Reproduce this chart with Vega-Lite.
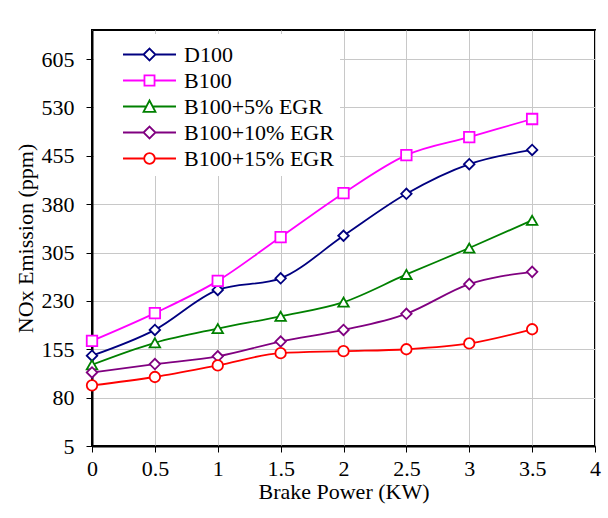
{
  "$schema": "https://vega.github.io/schema/vega-lite/v6.json",
  "autosize": "none",
  "width": 503,
  "height": 416,
  "padding": {"left": 92, "top": 30, "right": 13, "bottom": 72},
  "background": "white",
  "config": {
    "font": "Liberation Serif",
    "view": {"stroke": "black", "strokeWidth": 2},
    "axis": {
      "labelFont": "Liberation Serif",
      "titleFont": "Liberation Serif",
      "labelFontSize": 22,
      "titleFontSize": 22,
      "titleFontWeight": "normal",
      "labelColor": "black",
      "titleColor": "black",
      "domainColor": "black",
      "domainWidth": 2,
      "tickColor": "black",
      "tickSize": 6,
      "tickWidth": 1,
      "gridColor": "#c8c8c8",
      "gridWidth": 1
    }
  },
  "data": {
    "values": [
      {"p": 0, "nox": 145, "s": "D100"},
      {"p": 0.5, "nox": 185, "s": "D100"},
      {"p": 1, "nox": 247, "s": "D100"},
      {"p": 1.5, "nox": 265, "s": "D100"},
      {"p": 2, "nox": 331, "s": "D100"},
      {"p": 2.5, "nox": 396, "s": "D100"},
      {"p": 3, "nox": 442, "s": "D100"},
      {"p": 3.5, "nox": 464, "s": "D100"},
      {"p": 0, "nox": 168, "s": "B100"},
      {"p": 0.5, "nox": 211, "s": "B100"},
      {"p": 1, "nox": 261, "s": "B100"},
      {"p": 1.5, "nox": 329, "s": "B100"},
      {"p": 2, "nox": 397, "s": "B100"},
      {"p": 2.5, "nox": 456, "s": "B100"},
      {"p": 3, "nox": 484, "s": "B100"},
      {"p": 3.5, "nox": 512, "s": "B100"},
      {"p": 0, "nox": 131, "s": "B100+5% EGR"},
      {"p": 0.5, "nox": 165, "s": "B100+5% EGR"},
      {"p": 1, "nox": 187, "s": "B100+5% EGR"},
      {"p": 1.5, "nox": 206, "s": "B100+5% EGR"},
      {"p": 2, "nox": 228, "s": "B100+5% EGR"},
      {"p": 2.5, "nox": 271, "s": "B100+5% EGR"},
      {"p": 3, "nox": 312, "s": "B100+5% EGR"},
      {"p": 3.5, "nox": 355, "s": "B100+5% EGR"},
      {"p": 0, "nox": 119, "s": "B100+10% EGR"},
      {"p": 0.5, "nox": 132, "s": "B100+10% EGR"},
      {"p": 1, "nox": 144, "s": "B100+10% EGR"},
      {"p": 1.5, "nox": 167, "s": "B100+10% EGR"},
      {"p": 2, "nox": 185, "s": "B100+10% EGR"},
      {"p": 2.5, "nox": 210, "s": "B100+10% EGR"},
      {"p": 3, "nox": 256, "s": "B100+10% EGR"},
      {"p": 3.5, "nox": 275, "s": "B100+10% EGR"},
      {"p": 0, "nox": 99, "s": "B100+15% EGR"},
      {"p": 0.5, "nox": 112, "s": "B100+15% EGR"},
      {"p": 1, "nox": 130, "s": "B100+15% EGR"},
      {"p": 1.5, "nox": 149, "s": "B100+15% EGR"},
      {"p": 2, "nox": 152, "s": "B100+15% EGR"},
      {"p": 2.5, "nox": 155, "s": "B100+15% EGR"},
      {"p": 3, "nox": 164, "s": "B100+15% EGR"},
      {"p": 3.5, "nox": 186, "s": "B100+15% EGR"}
    ]
  },
  "encoding": {
    "x": {
      "field": "p", "type": "quantitative",
      "scale": {"domain": [0, 4], "nice": false, "zero": false},
      "axis": {"values": [0, 0.5, 1, 1.5, 2, 2.5, 3, 3.5, 4], "format": ".1~f", "title": "Brake Power (KW)", "labelPadding": 6, "titlePadding": 2, "labelFlush": false}
    },
    "y": {
      "field": "nox", "type": "quantitative",
      "scale": {"domain": [5, 650], "nice": false, "zero": false},
      "axis": {"values": [5, 80, 155, 230, 305, 380, 455, 530, 605], "title": "NOx Emission (ppm)", "labelPadding": 12, "titlePadding": 4, "labelFlush": false}
    }
  },
  "layer": [
    {
      "mark": {"type": "line", "interpolate": "monotone", "strokeWidth": 1.8},
      "encoding": {
        "color": {
          "field": "s", "type": "nominal",
          "scale": {"domain": ["D100", "B100", "B100+5% EGR", "B100+10% EGR", "B100+15% EGR"], "range": ["#000080", "#FF00FF", "#008000", "#800080", "#FF0000"]},
          "legend": null
        }
      }
    },
    {
      "mark": {"type": "point", "filled": true, "fill": "white", "strokeWidth": 1.8, "size": 110, "opacity": 1},
      "encoding": {
        "stroke": {
          "field": "s", "type": "nominal",
          "scale": {"domain": ["D100", "B100", "B100+5% EGR", "B100+10% EGR", "B100+15% EGR"], "range": ["#000080", "#FF00FF", "#008000", "#800080", "#FF0000"]},
          "legend": null
        },
        "shape": {
          "field": "s", "type": "nominal",
          "scale": {"domain": ["D100", "B100", "B100+5% EGR", "B100+10% EGR", "B100+15% EGR"], "range": ["diamond", "square", "triangle-up", "diamond", "circle"]},
          "legend": null
        }
      }
    },
    {
      "transform": [{"filter": "false"}],
      "mark": {"type": "point", "filled": true, "fill": "white", "strokeWidth": 1.8, "size": 702, "opacity": 1},
      "encoding": {
        "stroke": {
          "field": "s", "type": "nominal",
          "scale": {"domain": ["D100", "B100", "B100+5% EGR", "B100+10% EGR", "B100+15% EGR"], "range": ["#000080", "#FF00FF", "#008000", "#800080", "#FF0000"]},
          "legend": {
            "title": null, "orient": "none", "legendX": 2, "legendY": 4,
            "fillColor": "white", "padding": 6,
            "labelFont": "Liberation Serif", "labelFontSize": 22, "labelColor": "black",
            "symbolSize": 702, "symbolStrokeWidth": 1.8, "symbolFillColor": "white",
            "symbolOffset": 35, "labelOffset": 20, "rowPadding": 0
          }
        },
        "shape": {
          "field": "s", "type": "nominal",
          "scale": {"domain": ["D100", "B100", "B100+5% EGR", "B100+10% EGR", "B100+15% EGR"], "range": [
            "M-2,0H-0.45M-0.45,0L0,-0.45L0.45,0L0,0.45ZM0.45,0H2",
            "M-2,0H-0.38M-0.38,-0.38H0.38V0.38H-0.38ZM0.38,0H2",
            "M-2,0H-0.24M0,-0.45L0.45,0.4H-0.45ZM0.24,0H2",
            "M-2,0H-0.45M-0.45,0L0,-0.45L0.45,0L0,0.45ZM0.45,0H2",
            "M-2,0H-0.4M-0.4,0A0.4,0.4 0 1,0 0.4,0A0.4,0.4 0 1,0 -0.4,0ZM0.4,0H2"
          ]},
          "legend": {
            "title": null, "orient": "none", "legendX": 2, "legendY": 4,
            "fillColor": "white", "padding": 6,
            "labelFont": "Liberation Serif", "labelFontSize": 22, "labelColor": "black",
            "symbolSize": 702, "symbolStrokeWidth": 1.8, "symbolFillColor": "white",
            "symbolOffset": 35, "labelOffset": 20, "rowPadding": 0
          }
        }
      }
    }
  ],
  "resolve": {
    "scale": {"shape": "independent", "stroke": "independent"},
    "legend": {"shape": "independent", "stroke": "independent"}
  }
}
